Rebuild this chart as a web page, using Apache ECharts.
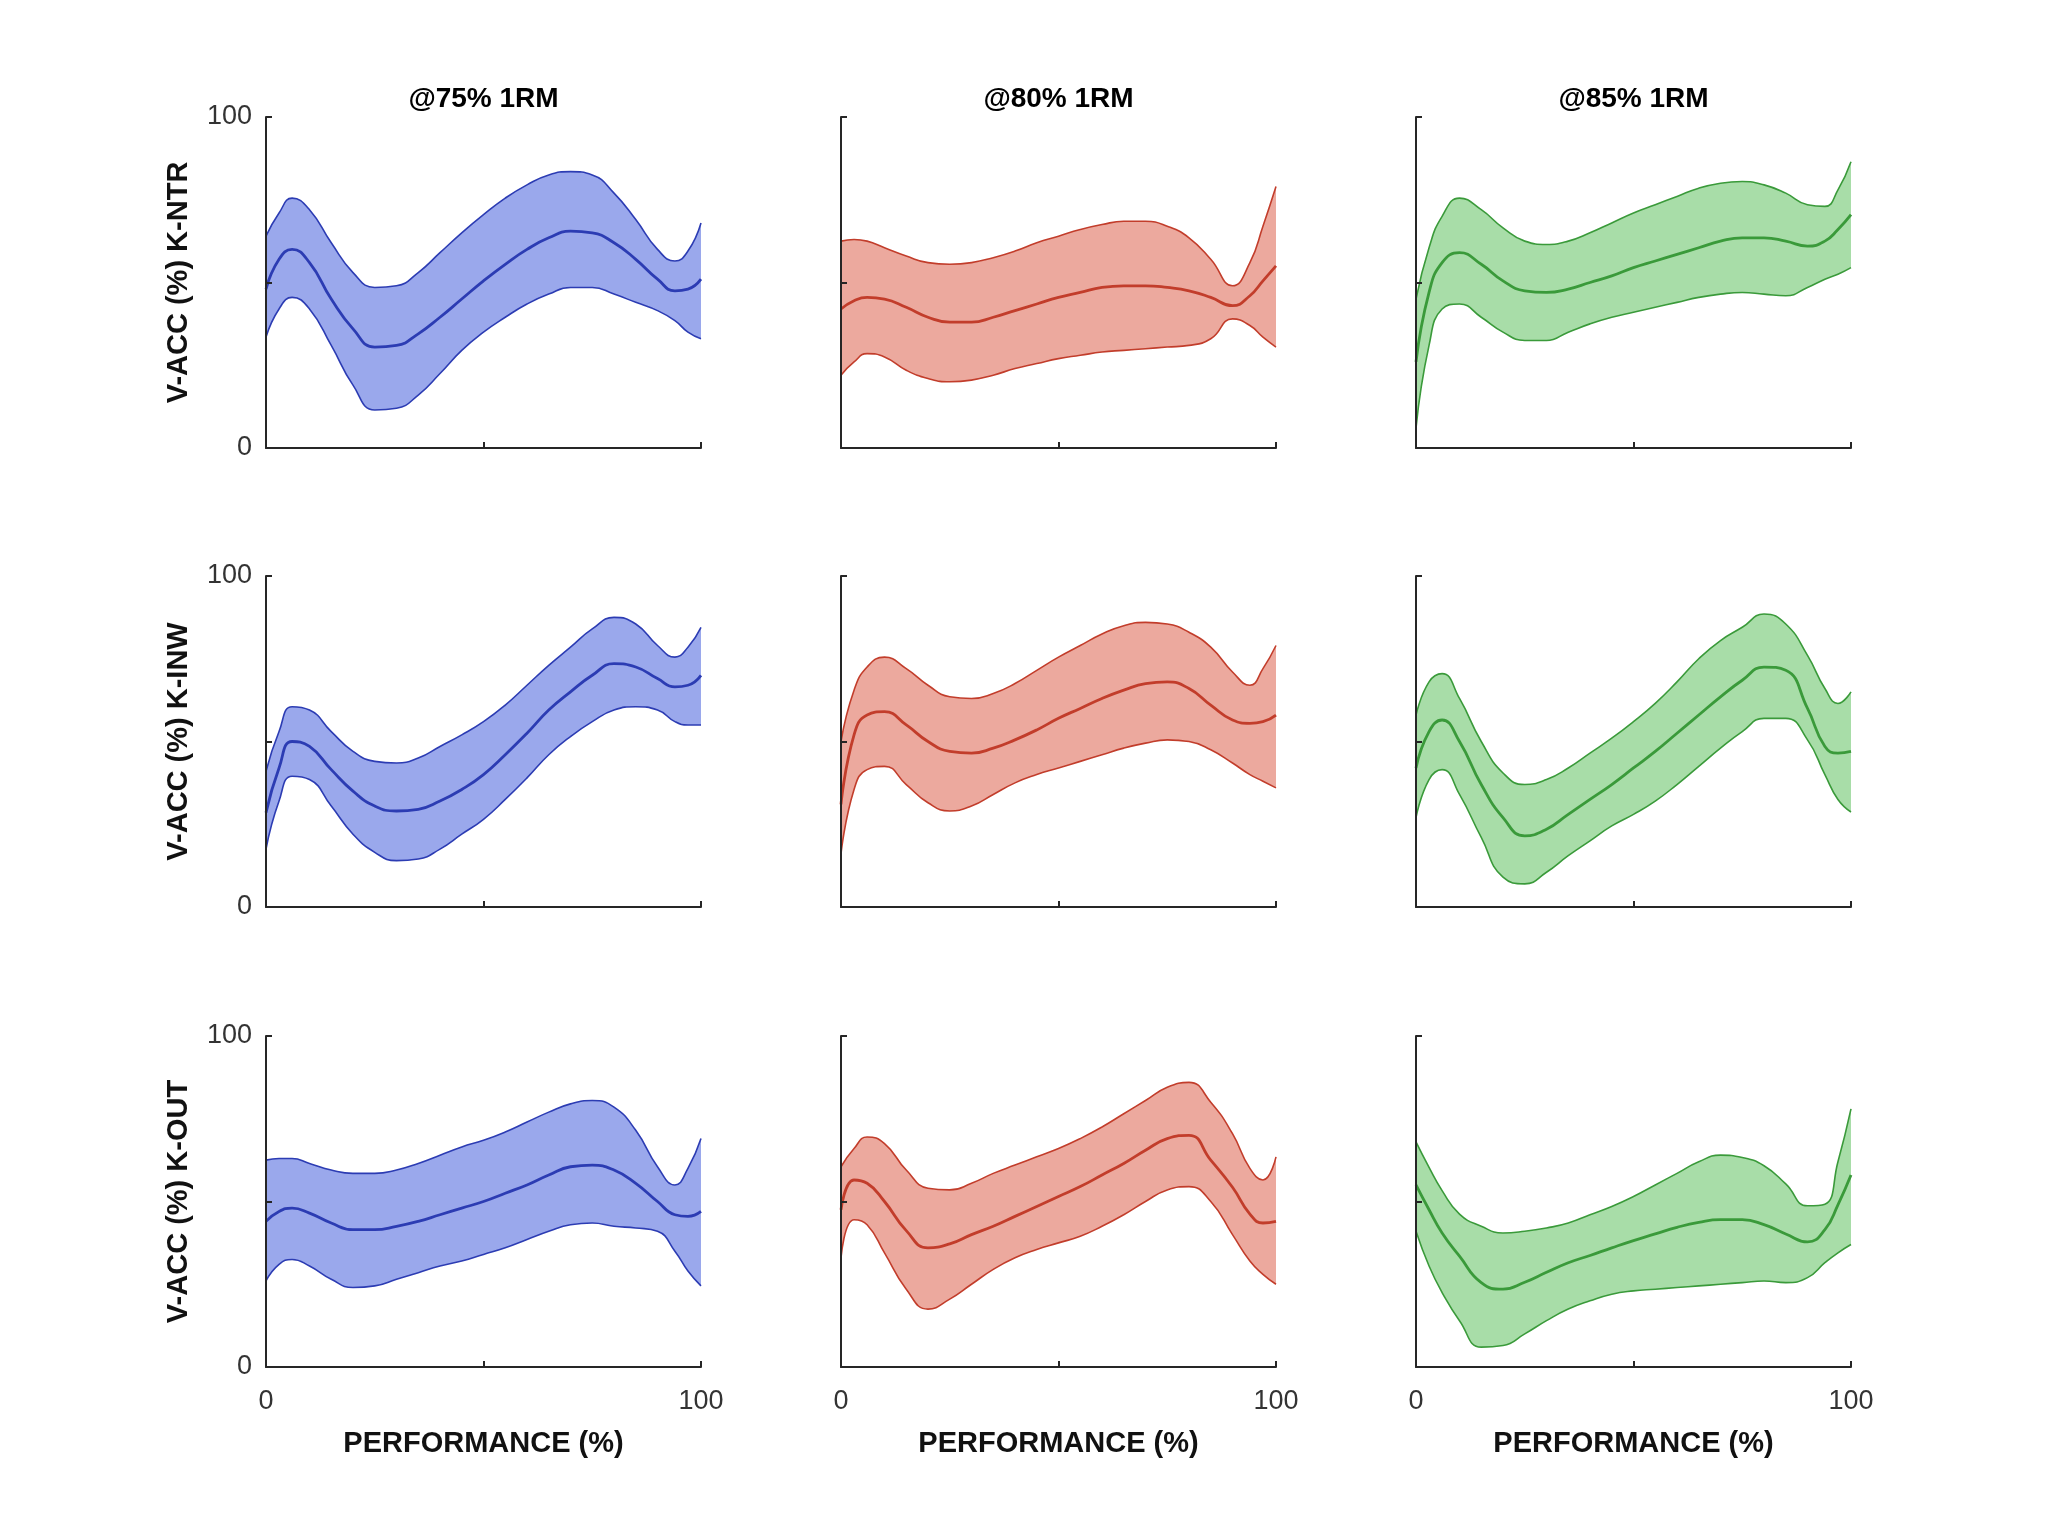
<!DOCTYPE html>
<html><head><meta charset="utf-8">
<script src="https://cdn.jsdelivr.net/npm/echarts@6/dist/echarts.min.js"></script>
<style>html,body{margin:0;padding:0;background:#fff}#c{width:2048px;height:1536px}</style>
</head><body><div id="c"></div><script>
// shared x grid (PERFORMANCE %)
const X = [0,3,6,10,15,20,25,30,35,40,45,50,55,60,65,70,75,80,85,90,94,97,100];
const COL_TITLES = ['@75% 1RM','@80% 1RM','@85% 1RM'];
const ROW_NAMES = ['V-ACC (%) K-NTR','V-ACC (%) K-INW','V-ACC (%) K-OUT'];
const X_NAME = 'PERFORMANCE (%)';
const TICK_LABELS = {0:'0', 100:'100'};

// K-NTR
const ntr75_mean  = [48,57,60,56,45,36,30.5,31,34.5,39.5,45,50.5,55.5,60,63.5,65.5,65,62,57,51,47.5,48,51];
const ntr75_upper = [64,71,75.5,72,62,53,48.5,49,53,59,65,70.5,75.5,79.5,82.5,83.5,82.5,77,69,60,56.5,59.5,68];
const ntr75_lower = [33.5,42,45.5,42,31,19,11.5,12,16,22.5,29.5,35,39.5,43.5,46.5,48.5,48.5,46.5,44,41.5,38.5,35,33];
const ntr80_mean  = [42,44.5,45.5,45,42.5,39.5,38,38,39.5,41.5,43.5,45.5,47,48.5,49,49,48.5,47.5,45.5,43,46,50.5,55];
const ntr80_upper = [62.5,63,62.5,60.5,58,56,55.5,56,57.5,59.5,62,64,66,67.5,68.5,68.5,67,63.5,57,49,56,67,79];
const ntr80_lower = [22,26,28.5,27.5,23.5,21,20,20.5,22,24,25.5,27,28,29,29.5,30,30.5,31,33,39,37,33.5,30.5];
const ntr85_mean  = [26,47,56,59,55.5,50.5,47.5,47,48,50,52,54.5,56.5,58.5,60.5,62.5,63.5,63.5,62.5,61,62.5,66,70.5];
const ntr85_upper = [45,60.5,70,75.5,72,66.5,62.5,61.5,62.5,65,68,71,73.5,76,78.5,80,80.5,79.5,77,73.5,73,78,86.5];
const ntr85_lower = [6,31,42,43.5,39.5,35,32.5,32.5,35,37.5,39.5,41,42.5,44,45.5,46.5,47,46.5,46,48.5,51,52.5,54.5];
// K-INW
const inw75_mean  = [28.5,42,50,48.5,41.5,35,30.5,29,29.5,32,35.5,40,46,52.5,59.5,65,70,73.5,72.5,69,66.5,67,70];
const inw75_upper = [41,53,60.5,59.5,53,47,44,43.5,45,48.5,52,56,61,67,73,78.5,84,87.5,85.5,79,75.5,78.5,84.5];
const inw75_lower = [17.5,32,39.5,38.5,30.5,22,16.5,14,14.5,17.5,22,26.5,32.5,39,46,51.5,56,59.5,60.5,59.5,56,55,55];
const inw80_mean  = [31,52,58,59,55,50,47,46.5,48,50.5,53.5,57,60,63,65.5,67.5,68,66,61,56.5,55.5,56,58];
const inw80_upper = [50,65.5,72.5,75.5,72,67,63.5,63,64.5,67.5,71.5,75.5,79,82.5,85,86,85.5,83,78.5,71,67,72,79];
const inw80_lower = [16,35.5,41.5,42.5,37,31.5,29,30.5,34,37.5,40,42,44,46,48,49.5,50.5,50,47.5,43.5,40,38,36];
const inw85_mean  = [42,53,56.5,50,37,27,21.5,23.5,28,32.5,37,42,47,52.5,58,63.5,68.5,72.5,71.5,60,48.5,46.5,47];
const inw85_upper = [58,68,70.5,63,50,40.5,37,38.5,42,46.5,51,56,61.5,68,75,80.5,84.5,88.5,85.5,76,66,61.5,65];
const inw85_lower = [27,38.5,41.5,34,21,9,7,10.5,15.5,20,24.5,28,32,37,42.5,48,53,57,57,50.5,40,32.5,28.7];
// K-OUT
const out75_mean  = [44,47,48,46.5,43.5,41.5,41.5,42.5,44,46,48,50,52.5,55,58,60.5,61,59.5,55.5,50,46,45.5,47];
const out75_upper = [62.5,63,63,61.5,59.5,58.5,58.5,59.5,61.5,64,66.5,68.5,71,74,77,79.5,80.5,78.5,71.5,60.5,55,60,69];
const out75_lower = [26,31,32.5,30.5,26.5,24,24.5,26.5,28.5,30.5,32,34,36,38.5,41,43,43.5,42.5,42,41,35,29,24.5];
const out80_mean  = [47.5,56.5,55.5,50,41.2,36,37.2,40,42.5,45.5,48.5,51.5,54.5,58,61.5,65.5,69,70,62.5,54.3,46.2,43.5,44];
const out80_upper = [60.5,66,69.5,67.5,59.5,54,53.5,55.5,58.5,61,63.5,66,69,72.5,76.5,80.5,84.5,86,80,70.5,60,56.5,63.5];
const out80_lower = [33,44.5,43,34.5,23.5,17.5,20.5,25,29.5,33,35.5,37.5,39.5,42.5,46,50,53.5,54.5,50,40,32,28,25];
const out85_mean  = [55,47.5,40.5,33.5,25.5,23.5,25.6,28.6,31.5,33.7,36,38.2,40.2,42.2,43.7,44.5,44.5,43,40.2,37.8,41.5,49,58];
const out85_upper = [68,60.3,53.3,46.2,42.5,40.5,41,42,43.5,46,48.5,51.5,55,58.5,62,64,63.3,60.8,55.3,48.7,49.2,62,78];
const out85_lower = [41,30.5,22.5,14,6,6.5,10,14,17.5,20,22,23,23.5,24,24.5,25,25.5,26,25.5,27,31.5,34.5,37];

const PANELS = [
  [0,0,ntr75_mean,ntr75_upper,ntr75_lower],[0,1,ntr80_mean,ntr80_upper,ntr80_lower],[0,2,ntr85_mean,ntr85_upper,ntr85_lower],
  [1,0,inw75_mean,inw75_upper,inw75_lower],[1,1,inw80_mean,inw80_upper,inw80_lower],[1,2,inw85_mean,inw85_upper,inw85_lower],
  [2,0,out75_mean,out75_upper,out75_lower],[2,1,out80_mean,out80_upper,out80_lower],[2,2,out85_mean,out85_upper,out85_lower]
];
const COLORS = [
  {line:'#2c3cb3', fill:'#9aa8ec'},
  {line:'#c23d2b', fill:'#eca99e'},
  {line:'#3a9a3a', fill:'#a8dda8'}
];

const FONT = "'Liberation Sans', Arial, sans-serif";
const LEFTS = [266, 841, 1416], TOPS = [117, 576, 1036], GW = 435, GH = 331;
const AX = '#262626';

const grids = [], xAxes = [], yAxes = [], series = [];
const pts = arr => X.map((x, i) => [x, arr[i]]);
const fmt = v => (TICK_LABELS[v] !== undefined ? TICK_LABELS[v] : '');

PANELS.forEach(([r, c, mean, upper, lower], i) => {
  grids.push({left: LEFTS[c], top: TOPS[r], width: GW, height: GH});
  const common = {
    gridIndex: i, type: 'value', min: 0, max: 100, interval: 50, z: 10,
    axisLine: {show: true, lineStyle: {color: AX, width: 2}},
    axisTick: {show: true, inside: true, length: 6, lineStyle: {color: AX, width: 2}},
    splitLine: {show: false},
    nameLocation: 'middle',
    nameTextStyle: {fontFamily: FONT, fontWeight: 'bold', fontSize: 29, color: '#111'}
  };
  xAxes.push(Object.assign({}, common, {
    axisLabel: {show: r === 2, formatter: fmt, fontFamily: FONT, fontSize: 27, color: '#333', margin: 21},
    name: r === 2 ? X_NAME : '', nameGap: 62
  }));
  yAxes.push(Object.assign({}, common, {
    axisLabel: {show: c === 0, formatter: fmt, fontFamily: FONT, fontSize: 27, color: '#333', margin: 14},
    name: c === 0 ? ROW_NAMES[r] : '', nameGap: 73
  }));
  const col = COLORS[c];
  const base = {type: 'line', xAxisIndex: i, yAxisIndex: i, smooth: 0.5, symbol: 'none', silent: true, animation: false};
  series.push(Object.assign({}, base, {data: pts(upper), lineStyle: {opacity: 0}, areaStyle: {color: col.fill, opacity: 1, origin: 'start'}, z: 2}));
  series.push(Object.assign({}, base, {data: pts(lower), lineStyle: {opacity: 0}, areaStyle: {color: '#ffffff', opacity: 1, origin: 'start'}, z: 2}));
  series.push(Object.assign({}, base, {data: pts(upper), lineStyle: {color: col.line, width: 1.6}, z: 3}));
  series.push(Object.assign({}, base, {data: pts(lower), lineStyle: {color: col.line, width: 1.6}, z: 3}));
  series.push(Object.assign({}, base, {data: pts(mean), lineStyle: {color: col.line, width: 2.8}, z: 4}));
});

const titles = COL_TITLES.map((t, c) => ({
  text: t, left: LEFTS[c] + GW / 2 - 5, top: 80, textAlign: 'center',
  textStyle: {fontFamily: FONT, fontWeight: 'bold', fontSize: 28, color: '#000'}
}));

const chart = echarts.init(document.getElementById('c'), null, {renderer: 'canvas'});
chart.setOption({
  backgroundColor: '#ffffff',
  animation: false,
  title: titles,
  grid: grids, xAxis: xAxes, yAxis: yAxes, series: series
});
</script></body></html>
